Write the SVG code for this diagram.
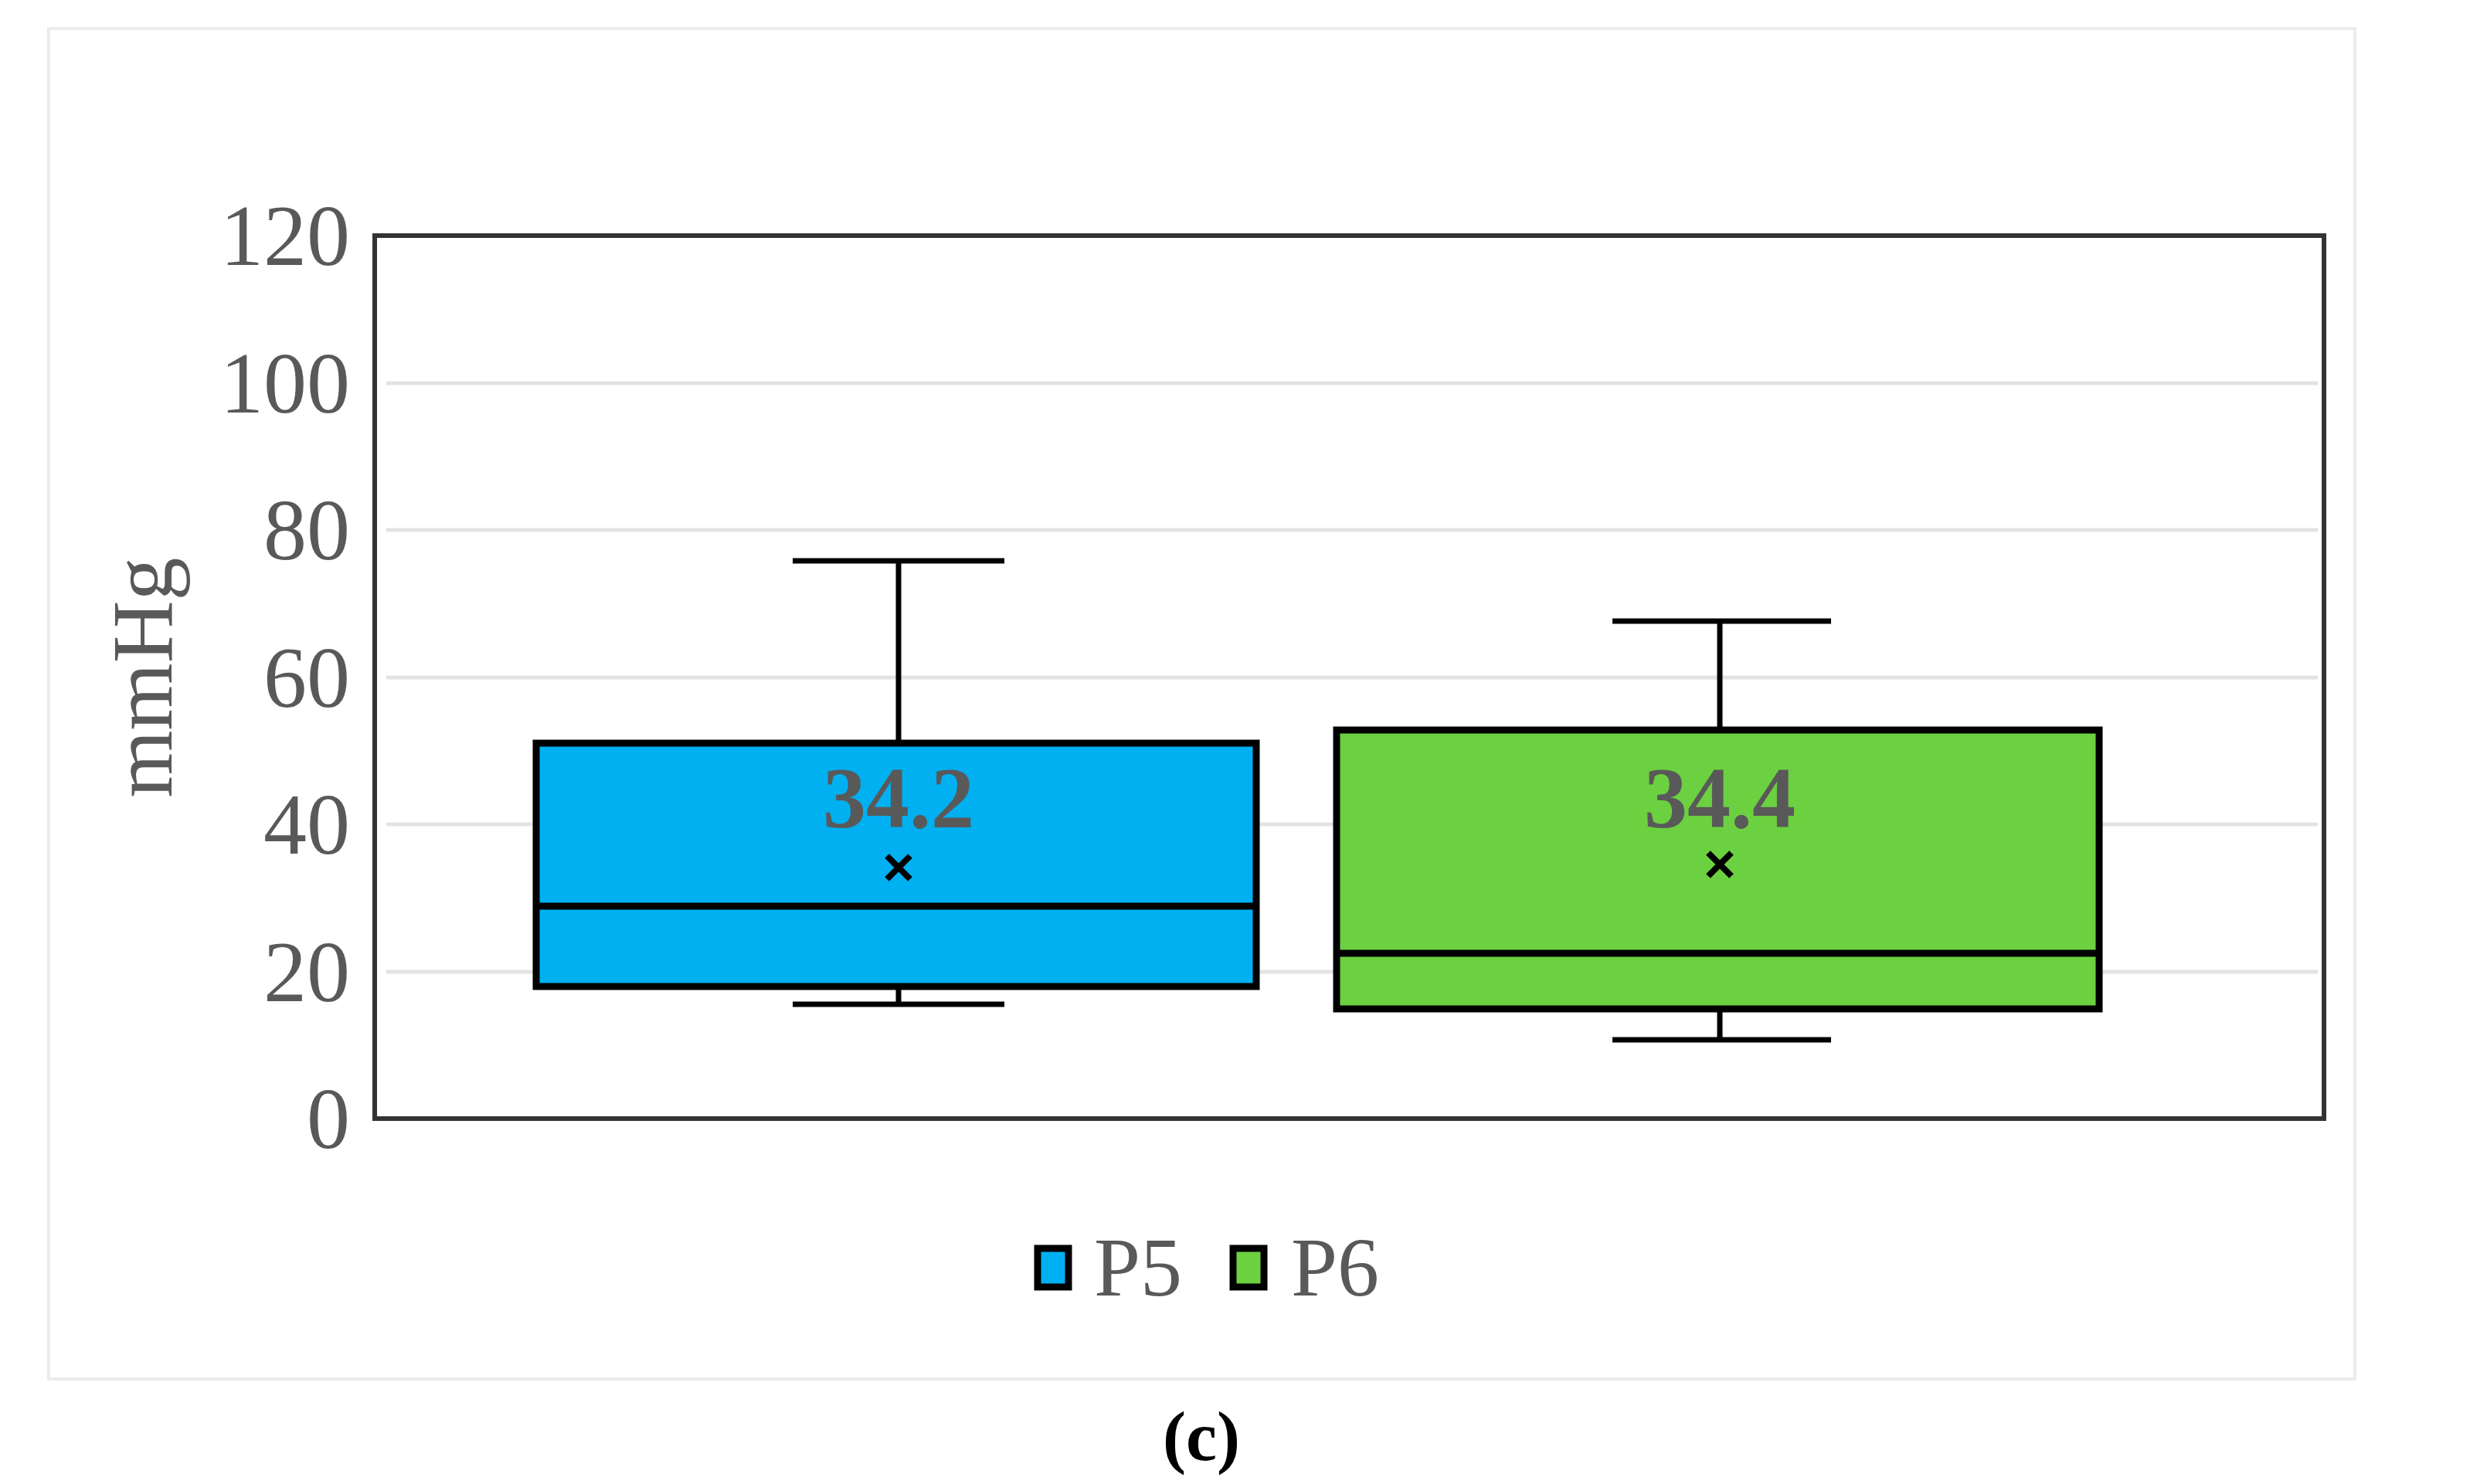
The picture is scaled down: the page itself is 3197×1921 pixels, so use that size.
<svg xmlns="http://www.w3.org/2000/svg" width="3197" height="1921" viewBox="0 0 3197 1921">
<style>
.tick{font-family:"Liberation Serif",serif;font-size:112px;fill:#595959;text-anchor:end}
.grid{stroke:#e3e3e3;stroke-width:5}
.box{stroke:#000;stroke-width:9}
.wh{stroke:#000;stroke-width:7;fill:none}
.mean{stroke:#000;stroke-width:8}
.val{font-family:"Liberation Serif",serif;font-weight:bold;font-size:112px;fill:#595959;text-anchor:middle}
.leg{font-family:"Liberation Serif",serif;font-size:108px;fill:#595959}
</style>
<rect width="3197" height="1921" fill="#fff"/>
<rect x="63" y="37" width="2985" height="1748" fill="none" stroke="#ececec" stroke-width="4"/>
<g id="grid">
<line class="grid" x1="500" y1="1258" x2="3000" y2="1258"/>
<line class="grid" x1="500" y1="1067" x2="3000" y2="1067"/>
<line class="grid" x1="500" y1="877" x2="3000" y2="877"/>
<line class="grid" x1="500" y1="686" x2="3000" y2="686"/>
<line class="grid" x1="500" y1="496" x2="3000" y2="496"/>
</g>
<rect x="485" y="305" width="2523" height="1143" fill="none" stroke="#333" stroke-width="6"/>
<g id="yaxis">
<text class="tick" x="453" y="343">120</text>
<text class="tick" x="453" y="534">100</text>
<text class="tick" x="453" y="724">80</text>
<text class="tick" x="453" y="915">60</text>
<text class="tick" x="453" y="1105">40</text>
<text class="tick" x="453" y="1296">20</text>
<text class="tick" x="453" y="1486">0</text>
<text font-family="Liberation Serif,serif" font-size="112" fill="#595959" text-anchor="middle" transform="translate(222 877) rotate(-90)">mmHg</text>
</g>
<g id="connectors">
<path class="wh" d="M1163 962V726M1026 726H1300M1163 1277V1300M1026 1300H1300"/>
<path class="wh" d="M2226 945V804M2087 804H2370M2226 1306V1346M2087 1346H2370"/>
</g>
<g id="P5">
<rect class="box" x="694" y="962" width="932" height="315" fill="#00b0f0"/>
<line class="box" x1="694" y1="1173" x2="1626" y2="1173"/>
<text class="val" x="1163" y="1071">34.2</text>
<path class="mean" d="M1148 1108L1178 1138M1178 1108L1148 1138"/>
</g>
<g id="P6">
<rect class="box" x="1730" y="945" width="987" height="361" fill="#6cd140"/>
<line class="box" x1="1730" y1="1234" x2="2717" y2="1234"/>
<text class="val" x="2226" y="1071">34.4</text>
<path class="mean" d="M2211 1104L2241 1134M2241 1104L2211 1134"/>
</g>
<g id="legend">
<rect x="1343" y="1616" width="40" height="50" fill="#00b0f0" stroke="#000" stroke-width="9"/>
<text class="leg" x="1416" y="1677">P5</text>
<rect x="1596" y="1616" width="40" height="50" fill="#6cd140" stroke="#000" stroke-width="9"/>
<text class="leg" x="1671" y="1677">P6</text>
</g>
<text x="1555" y="1890" font-family="Liberation Serif,serif" font-weight="bold" font-size="90" text-anchor="middle">(c)</text>
</svg>
